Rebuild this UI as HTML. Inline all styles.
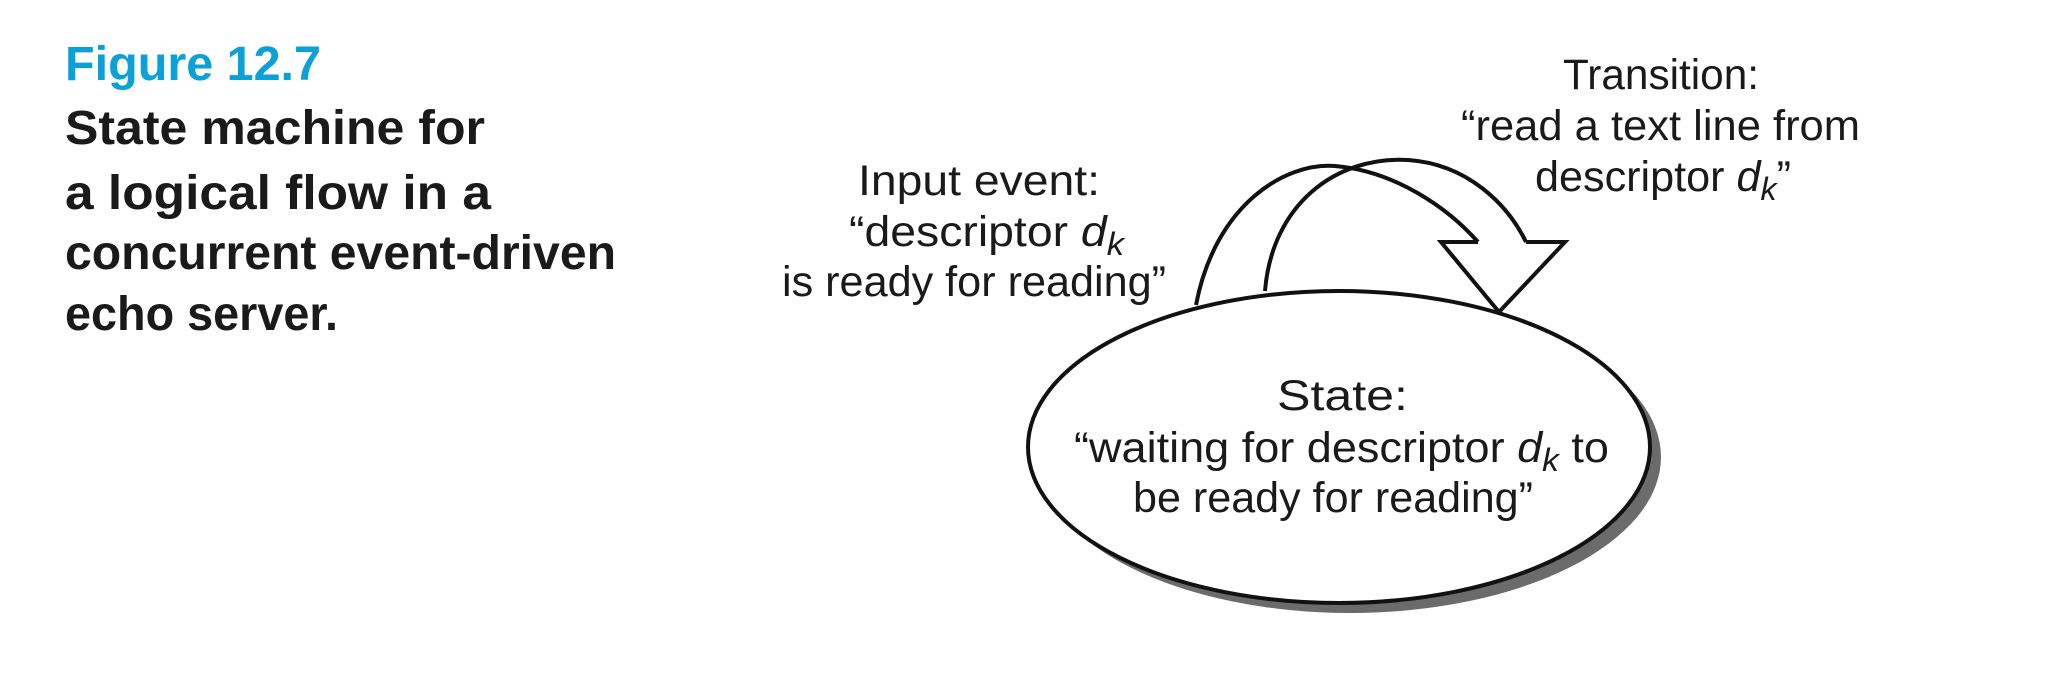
<!DOCTYPE html>
<html><head><meta charset="utf-8"><style>html,body{margin:0;padding:0;background:#fff}svg{display:block}</style></head>
<body>
<svg width="2054" height="676" viewBox="0 0 2054 676" xmlns="http://www.w3.org/2000/svg">
<g font-family="Liberation Sans, sans-serif" font-weight="bold" font-size="48">
<text x="65" y="80" fill="#0aa0d8" textLength="256" lengthAdjust="spacingAndGlyphs">Figure 12.7</text>
<g fill="#1a1a1a">
<text x="65" y="144" textLength="420" lengthAdjust="spacingAndGlyphs">State machine for</text>
<text x="65" y="209" textLength="426" lengthAdjust="spacingAndGlyphs">a logical flow in a</text>
<text x="65" y="269" textLength="551" lengthAdjust="spacingAndGlyphs">concurrent event-driven</text>
<text x="65" y="330" textLength="273" lengthAdjust="spacingAndGlyphs">echo server.</text>
</g></g>
<ellipse cx="1350" cy="457" rx="311" ry="156" fill="#6b6b6b"/>
<ellipse cx="1339" cy="447" rx="311" ry="156" fill="#fff" stroke="#111" stroke-width="4"/>
<g fill="none" stroke="#111" stroke-width="4" stroke-linejoin="miter">
<path d="M1196,305 C1215,205 1285,162 1335,166 C1395,171 1448,208 1478,242"/>
<path d="M1265,291 C1272,205 1335,156 1408,160 C1468,164 1508,205 1526,242"/>
<path d="M1478,242 L1441,242 L1499,312 L1565,242 L1526,242"/>
</g>
<g font-family="Liberation Sans, sans-serif" font-size="43" fill="#1a1a1a">
<text x="1563" y="89" textLength="196" lengthAdjust="spacingAndGlyphs">Transition:</text>
<text x="1461" y="140" textLength="399" lengthAdjust="spacingAndGlyphs">“read a text line from</text>
<text x="1535" y="191" textLength="256" lengthAdjust="spacingAndGlyphs">descriptor <tspan font-style="italic">d</tspan><tspan font-style="italic" font-size="32" dy="9">k</tspan><tspan dy="-9">”</tspan></text>
<text x="858" y="195" textLength="242" lengthAdjust="spacingAndGlyphs">Input event:</text>
<text x="849" y="246" textLength="275" lengthAdjust="spacingAndGlyphs">“descriptor <tspan font-style="italic">d</tspan><tspan font-style="italic" font-size="32" dy="9">k</tspan></text>
<text x="782" y="296" textLength="384" lengthAdjust="spacingAndGlyphs">is ready for reading”</text>
<text x="1277" y="410" textLength="131" lengthAdjust="spacingAndGlyphs">State:</text>
<text x="1074" y="462" textLength="535" lengthAdjust="spacingAndGlyphs">“waiting for descriptor <tspan font-style="italic">d</tspan><tspan font-style="italic" font-size="32" dy="9">k</tspan><tspan dy="-9"> to</tspan></text>
<text x="1133" y="512" textLength="400" lengthAdjust="spacingAndGlyphs">be ready for reading”</text>
</g>
</svg>
</body></html>
